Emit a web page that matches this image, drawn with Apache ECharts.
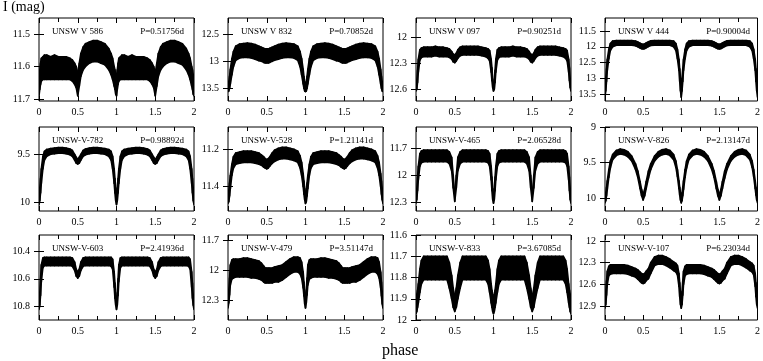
<!DOCTYPE html>
<html>
<head>
<meta charset="utf-8">
<script src="https://cdn.jsdelivr.net/npm/echarts@6/dist/echarts.min.js"></script>
<style>
html, body { margin: 0; padding: 0; background: #fff; }
#chart { width: 763px; height: 361px; }
</style>
</head>
<body>
<div id="chart"></div>
<script>
// phase grid for one cycle (0-1), the second cycle (1-2) repeats it
const phase = [0, 0.01, 0.02, 0.03, 0.05, 0.07, 0.1, 0.15, 0.2, 0.25, 0.3, 0.35, 0.4, 0.43, 0.46, 0.48, 0.5,
  0.52, 0.54, 0.57, 0.6, 0.65, 0.7, 0.75, 0.8, 0.85, 0.9, 0.93, 0.95, 0.97, 0.98, 0.99, 1.0];

const starNames = ['UNSW V 586', 'UNSW V 832', 'UNSW V 097', 'UNSW V 444',
  'UNSW-V-782', 'UNSW-V-528', 'UNSW-V-465', 'UNSW-V-826',
  'UNSW-V-603', 'UNSW-V-479', 'UNSW-V-833', 'UNSW-V-107'];
const periods = ['P=0.51756d', 'P=0.70852d', 'P=0.90251d', 'P=0.90004d',
  'P=0.98892d', 'P=1.21141d', 'P=2.06528d', 'P=2.13147d',
  'P=2.41936d', 'P=3.51147d', 'P=3.67085d', 'P=6.23034d'];

// y axis (magnitude) ranges and tick labels
const yMin = [11.451, 12.198, 11.771, 11.087, 9.218, 11.081, 11.463, 9.0, 10.285, 11.65, 11.6, 11.917];
const yMax = [11.706, 13.735, 12.736, 13.72, 10.086, 11.53, 12.397, 10.185, 10.896, 12.5, 12.0, 13.094];
const yTicks = [
  [11.5, 11.6, 11.7], [12.5, 13, 13.5], [12, 12.3, 12.6], [11.5, 12, 12.5, 13, 13.5],
  [9.5, 10], [11.2, 11.4], [11.7, 12, 12.3], [9, 9.5, 10],
  [10.4, 10.6, 10.8], [11.7, 12, 12.3], [11.6, 11.7, 11.8, 11.9, 12], [12, 12.3, 12.6, 12.9]
];

// bright edge / faint edge of the point cloud, per star (mag at each phase)
const v586Top = [11.63, 11.61, 11.59, 11.575, 11.57, 11.565, 11.565, 11.57, 11.565, 11.57, 11.57, 11.57, 11.575, 11.58, 11.59, 11.6, 11.62,
  11.59, 11.56, 11.54, 11.53, 11.525, 11.52, 11.52, 11.525, 11.53, 11.545, 11.56, 11.575, 11.6, 11.61, 11.625, 11.63];
const v586Bot = [11.69, 11.67, 11.655, 11.645, 11.64, 11.64, 11.64, 11.64, 11.64, 11.64, 11.64, 11.64, 11.64, 11.645, 11.655, 11.665, 11.69,
  11.66, 11.63, 11.61, 11.6, 11.59, 11.585, 11.585, 11.59, 11.595, 11.61, 11.625, 11.64, 11.66, 11.67, 11.685, 11.69];

const v832Top = [13.42, 13.38, 13.28, 13.15, 12.95, 12.82, 12.72, 12.68, 12.67, 12.66, 12.67, 12.69, 12.72, 12.74, 12.76, 12.77, 12.77,
  12.77, 12.76, 12.74, 12.72, 12.69, 12.67, 12.66, 12.67, 12.68, 12.72, 12.82, 12.95, 13.15, 13.28, 13.38, 13.42];
const v832Bot = [13.56, 13.55, 13.5, 13.42, 13.25, 13.1, 12.98, 12.94, 12.93, 12.93, 12.94, 12.96, 12.99, 13.0, 13.02, 13.03, 13.03,
  13.03, 13.02, 13.0, 12.98, 12.96, 12.94, 12.93, 12.93, 12.94, 12.98, 13.1, 13.25, 13.42, 13.5, 13.55, 13.56];

const v097Top = [12.55, 12.5, 12.38, 12.25, 12.14, 12.12, 12.11, 12.11, 12.11, 12.1, 12.11, 12.11, 12.12, 12.13, 12.16, 12.19, 12.2,
  12.18, 12.14, 12.11, 12.1, 12.1, 12.1, 12.1, 12.1, 12.11, 12.12, 12.13, 12.15, 12.25, 12.35, 12.48, 12.55];
const v097Bot = [12.62, 12.6, 12.52, 12.4, 12.26, 12.23, 12.22, 12.22, 12.22, 12.21, 12.22, 12.22, 12.22, 12.23, 12.25, 12.28, 12.29,
  12.27, 12.24, 12.21, 12.2, 12.2, 12.2, 12.2, 12.2, 12.21, 12.22, 12.24, 12.27, 12.4, 12.5, 12.58, 12.62];

const v444Top = [13.35, 13.0, 12.7, 12.4, 12.08, 11.9, 11.82, 11.8, 11.8, 11.8, 11.8, 11.8, 11.82, 11.85, 11.89, 11.91, 11.92,
  11.91, 11.88, 11.84, 11.81, 11.8, 11.8, 11.8, 11.8, 11.8, 11.82, 11.9, 12.08, 12.4, 12.7, 13.0, 13.35];
const v444Bot = [13.6, 13.4, 13.1, 12.75, 12.38, 12.12, 12.0, 11.95, 11.95, 11.95, 11.95, 11.95, 11.97, 12.0, 12.04, 12.06, 12.07,
  12.06, 12.03, 11.99, 11.96, 11.95, 11.95, 11.95, 11.95, 11.95, 12.0, 12.12, 12.38, 12.75, 13.1, 13.4, 13.6];

const v782Top = [9.93, 9.85, 9.75, 9.65, 9.52, 9.47, 9.45, 9.44, 9.435, 9.43, 9.43, 9.435, 9.445, 9.46, 9.5, 9.53, 9.55,
  9.53, 9.5, 9.46, 9.445, 9.435, 9.43, 9.43, 9.435, 9.44, 9.45, 9.47, 9.52, 9.65, 9.75, 9.85, 9.93];
const v782Bot = [10.02, 9.98, 9.9, 9.8, 9.65, 9.56, 9.52, 9.5, 9.495, 9.49, 9.49, 9.495, 9.505, 9.52, 9.56, 9.59, 9.6,
  9.59, 9.56, 9.52, 9.505, 9.495, 9.49, 9.49, 9.495, 9.5, 9.52, 9.56, 9.65, 9.8, 9.9, 9.98, 10.02];

const v528Top = [11.44, 11.42, 11.38, 11.34, 11.28, 11.24, 11.22, 11.215, 11.21, 11.21, 11.21, 11.215, 11.22, 11.23, 11.24, 11.25, 11.255,
  11.25, 11.24, 11.22, 11.205, 11.195, 11.19, 11.19, 11.195, 11.2, 11.21, 11.235, 11.27, 11.33, 11.37, 11.41, 11.44];
const v528Bot = [11.49, 11.48, 11.45, 11.41, 11.34, 11.3, 11.28, 11.275, 11.27, 11.27, 11.27, 11.275, 11.28, 11.285, 11.295, 11.3, 11.305,
  11.3, 11.29, 11.275, 11.265, 11.255, 11.25, 11.25, 11.255, 11.26, 11.27, 11.3, 11.34, 11.4, 11.44, 11.47, 11.49];

const v465Top = [12.25, 12.15, 12.02, 11.9, 11.76, 11.73, 11.72, 11.72, 11.72, 11.72, 11.72, 11.72, 11.72, 11.74, 11.8, 12.0, 12.22,
  12.0, 11.8, 11.74, 11.72, 11.72, 11.72, 11.72, 11.72, 11.72, 11.72, 11.73, 11.76, 11.9, 12.02, 12.15, 12.25];
const v465Bot = [12.31, 12.27, 12.17, 12.05, 11.9, 11.86, 11.85, 11.85, 11.85, 11.85, 11.85, 11.85, 11.85, 11.87, 11.95, 12.14, 12.29,
  12.14, 11.95, 11.87, 11.85, 11.85, 11.85, 11.85, 11.85, 11.85, 11.85, 11.86, 11.9, 12.05, 12.17, 12.27, 12.31];

const v826Top = [9.98, 9.93, 9.85, 9.76, 9.6, 9.48, 9.39, 9.33, 9.31, 9.32, 9.35, 9.41, 9.52, 9.62, 9.77, 9.88, 9.95,
  9.88, 9.77, 9.62, 9.52, 9.41, 9.35, 9.32, 9.31, 9.33, 9.39, 9.48, 9.6, 9.76, 9.85, 9.93, 9.98];
const v826Bot = [10.07, 10.04, 9.97, 9.88, 9.71, 9.58, 9.46, 9.4, 9.38, 9.39, 9.42, 9.48, 9.6, 9.71, 9.87, 9.97, 10.03,
  9.97, 9.87, 9.72, 9.6, 9.48, 9.42, 9.39, 9.38, 9.4, 9.46, 9.57, 9.7, 9.87, 9.96, 10.03, 10.07];

const v603Top = [10.76, 10.7, 10.6, 10.5, 10.45, 10.445, 10.445, 10.445, 10.445, 10.445, 10.445, 10.445, 10.445, 10.45, 10.48, 10.53, 10.55,
  10.53, 10.48, 10.45, 10.445, 10.445, 10.445, 10.445, 10.445, 10.445, 10.445, 10.445, 10.46, 10.55, 10.63, 10.72, 10.76];
const v603Bot = [10.82, 10.79, 10.72, 10.62, 10.52, 10.505, 10.505, 10.505, 10.505, 10.505, 10.505, 10.505, 10.505, 10.51, 10.54, 10.58, 10.595,
  10.58, 10.54, 10.51, 10.505, 10.505, 10.505, 10.505, 10.505, 10.505, 10.505, 10.51, 10.53, 10.66, 10.74, 10.79, 10.82];

const v479Top = [12.28, 12.2, 12.08, 11.95, 11.9, 11.89, 11.89, 11.89, 11.88, 11.88, 11.89, 11.9, 11.91, 11.93, 11.96, 11.98, 11.98,
  11.98, 11.98, 11.98, 11.97, 11.96, 11.95, 11.92, 11.89, 11.87, 11.87, 11.88, 11.92, 12.02, 12.12, 12.22, 12.28];
const v479Bot = [12.38, 12.33, 12.25, 12.15, 12.09, 12.08, 12.07, 12.07, 12.07, 12.07, 12.08, 12.08, 12.09, 12.1, 12.12, 12.13, 12.13,
  12.13, 12.13, 12.13, 12.12, 12.12, 12.1, 12.07, 12.04, 12.02, 12.02, 12.04, 12.08, 12.18, 12.26, 12.34, 12.38];

const v833Top = [11.9, 11.88, 11.86, 11.83, 11.76, 11.72, 11.7, 11.7, 11.7, 11.7, 11.7, 11.7, 11.7, 11.73, 11.79, 11.85, 11.89,
  11.85, 11.79, 11.73, 11.7, 11.7, 11.7, 11.7, 11.7, 11.7, 11.7, 11.72, 11.76, 11.83, 11.86, 11.88, 11.9];
const v833Bot = [11.97, 11.96, 11.94, 11.92, 11.87, 11.83, 11.81, 11.81, 11.81, 11.81, 11.81, 11.81, 11.81, 11.85, 11.9, 11.94, 11.96,
  11.94, 11.9, 11.85, 11.81, 11.81, 11.81, 11.81, 11.81, 11.81, 11.81, 11.83, 11.87, 11.92, 11.94, 11.96, 11.97];

const v107Top = [12.82, 12.7, 12.55, 12.42, 12.35, 12.33, 12.33, 12.33, 12.33, 12.33, 12.34, 12.36, 12.38, 12.4, 12.43, 12.45, 12.46,
  12.45, 12.42, 12.38, 12.3, 12.22, 12.2, 12.2, 12.22, 12.25, 12.29, 12.31, 12.34, 12.45, 12.58, 12.72, 12.82];
const v107Bot = [12.93, 12.88, 12.75, 12.6, 12.48, 12.46, 12.45, 12.45, 12.45, 12.45, 12.46, 12.48, 12.5, 12.53, 12.56, 12.58, 12.59,
  12.58, 12.55, 12.52, 12.45, 12.34, 12.32, 12.32, 12.34, 12.37, 12.41, 12.43, 12.47, 12.63, 12.77, 12.88, 12.93];

const topEdges = [v586Top, v832Top, v097Top, v444Top, v782Top, v528Top, v465Top, v826Top, v603Top, v479Top, v833Top, v107Top];
const botEdges = [v586Bot, v832Bot, v097Bot, v444Bot, v782Bot, v528Bot, v465Bot, v826Bot, v603Bot, v479Bot, v833Bot, v107Bot];

// layout of the 4x3 panels (px)
const colLeft = [39, 228, 416, 605];
const rowTop = [18, 127, 235];
const rowHeight = [83, 84, 85];
const panelWidth = 155;
const W = 763;

const font = 'Liberation Serif';
const fullPhase = phase.concat(phase.slice(1).map(p => +(p + 1).toFixed(3)));
const fmt = v => String(Math.round(v * 100) / 100);

// one quadrilateral per phase step: bright edge on top, faint edge below
function renderBand(params, api) {
  const a = api.coord([api.value(0), api.value(2)]);
  const b = api.coord([api.value(1), api.value(3)]);
  const c = api.coord([api.value(1), api.value(5)]);
  const d = api.coord([api.value(0), api.value(4)]);
  return {
    type: 'polygon',
    shape: { points: [a, b, c, d] },
    style: { fill: '#000', stroke: '#000', lineWidth: 1.6, lineJoin: 'round' }
  };
}

let grid = [], xAxis = [], yAxis = [], series = [], title = [];
let xTop = [], yRight = [];

for (let i = 0; i < 12; i++) {
  const c = i % 4, r = Math.floor(i / 4);
  grid.push({
    left: colLeft[c], top: rowTop[r], width: panelWidth, height: rowHeight[r],
    show: true, borderColor: '#000', borderWidth: 1, backgroundColor: 'transparent'
  });
  const xBase = {
    gridIndex: i, type: 'value', min: 0, max: 2, interval: 0.5,
    axisLine: { show: false },
    axisTick: { inside: true, length: 5, lineStyle: { color: '#000' } },
    minorTick: { show: true, splitNumber: 2, length: 4, lineStyle: { color: '#000' } },
    splitLine: { show: false },
    axisLabel: { color: '#000', fontSize: 10, margin: 6, fontFamily: font, formatter: fmt }
  };
  xAxis.push(xBase);
  xTop.push(Object.assign({}, xBase, { position: 'top', axisLabel: { show: false } }));
  const yBase = {
    gridIndex: i, type: 'value', inverse: true, min: yMin[i], max: yMax[i],
    axisLine: { show: false },
    axisTick: { inside: true, length: 5, customValues: yTicks[i], lineStyle: { color: '#000' } },
    splitLine: { show: false },
    axisLabel: { color: '#000', fontSize: 10, margin: 9, fontFamily: font, customValues: yTicks[i], formatter: fmt }
  };
  yAxis.push(yBase);
  yRight.push(Object.assign({}, yBase, { position: 'right', axisLabel: { show: false } }));

  const topFull = topEdges[i].concat(topEdges[i].slice(1));
  const botFull = botEdges[i].concat(botEdges[i].slice(1));
  const segs = [];
  for (let k = 0; k < fullPhase.length - 1; k++) {
    segs.push([fullPhase[k], fullPhase[k + 1], topFull[k], topFull[k + 1], botFull[k], botFull[k + 1]]);
  }
  series.push({
    type: 'custom', xAxisIndex: i, yAxisIndex: i, clip: true,
    renderItem: renderBand,
    encode: { x: [0, 1], y: [2, 3, 4, 5] },
    data: segs,
    silent: true
  });

  title.push({
    text: starNames[i], left: colLeft[c] + 13, top: rowTop[r] + 9, padding: 0,
    textStyle: { fontSize: 9, fontWeight: 'normal', color: '#000', fontFamily: font }
  });
  title.push({
    text: periods[i], right: W - (colLeft[c] + panelWidth) + 10, top: rowTop[r] + 9, padding: 0,
    textStyle: { fontSize: 9, fontWeight: 'normal', color: '#000', fontFamily: font }
  });
}
title.push({
  text: 'I (mag)', left: 3, top: 0, padding: 0,
  textStyle: { fontSize: 14, fontWeight: 'normal', color: '#000', fontFamily: font }
});
title.push({
  text: 'phase', left: 382, top: 343, padding: 0,
  textStyle: { fontSize: 16, fontWeight: 'normal', color: '#000', fontFamily: font }
});

const chart = echarts.init(document.getElementById('chart'), null, { renderer: 'canvas' });
chart.setOption({
  animation: false,
  backgroundColor: '#fff',
  textStyle: { fontFamily: font },
  title: title,
  grid: grid,
  xAxis: xAxis.concat(xTop),
  yAxis: yAxis.concat(yRight),
  series: series
});
</script>
</body>
</html>
